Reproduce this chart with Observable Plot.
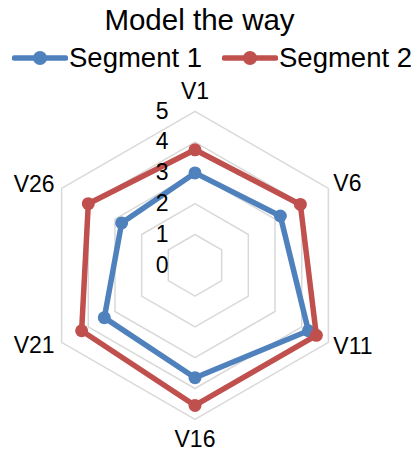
<!DOCTYPE html>
<html>
<head>
<meta charset="utf-8">
<script src="https://cdn.jsdelivr.net/npm/d3@7"></script>
<script src="https://cdn.jsdelivr.net/npm/@observablehq/plot@0.6"></script>
<style>
  html, body { margin: 0; padding: 0; background: #fff; }
  body { width: 411px; height: 452px; overflow: hidden; font-family: "Liberation Sans", Arial, sans-serif; color: #000; }
  #title { height: 40px; line-height: 40px; font-size: 29.5px; text-align: center; padding-right: 12px; white-space: nowrap; }
  #legend { height: 36px; position: relative; font-size: 27.5px; }
  #legend .swatch { position: absolute; top: 10px; }
  #legend .name { position: absolute; top: 0; line-height: 36px; white-space: nowrap; }
  #chart svg { display: block; }
</style>
</head>
<body>
<div id="title">Model the way</div>
<div id="legend"></div>
<div id="chart"></div>
<script>
// Radar axes, value ticks and the two segment profiles
const axes = ["V1", "V6", "V11", "V16", "V21", "V26"];
const ticks = [0, 1, 2, 3, 4, 5];
const seriesNames = ["Segment 1", "Segment 2"];
const seriesColors = ["#4F81BD", "#C0504D"];
const segment1 = [3.0, 3.2, 4.25, 3.65, 3.4, 2.75];
const segment2 = [3.75, 3.95, 4.55, 4.55, 4.25, 4.0];

const maxValue = 5;
const angle = (i) => (i * 2 * Math.PI) / axes.length;

// Concentric hexagonal grid rings (levels 1..5)
const grid = [];
for (const level of ticks.filter((t) => t > 0)) {
  for (let i = 0; i <= axes.length; i++) {
    const k = i % axes.length;
    grid.push({level, value: level, k});
  }
}

const series = [
  ...segment1.map((value, k) => ({series: seriesNames[0], axis: axes[k], value, k})),
  ...segment2.map((value, k) => ({series: seriesNames[1], axis: axes[k], value, k}))
];

const px = (d) => d.value * Math.sin(angle(d.k));
const py = (d) => d.value * Math.cos(angle(d.k));

// Axis label placement around the outer ring
const labelOffsets = [
  {dx: 0, dy: -20, anchor: "middle"},
  {dx: 5, dy: -4.5, anchor: "start"},
  {dx: 5, dy: 4, anchor: "start"},
  {dx: 0, dy: 20, anchor: "middle"},
  {dx: -7, dy: 3, anchor: "end"},
  {dx: -7, dy: -3.3, anchor: "end"}
];
const labels = axes.map((name, k) => ({name, k, value: maxValue, ...labelOffsets[k]}));

const color = {domain: seriesNames, range: seriesColors};

const seriesMarks = seriesNames.flatMap((name) => {
  const data = series.filter((d) => d.series === name);
  return [
    Plot.line(data, {x: px, y: py, stroke: "series", strokeWidth: 5.5, curve: "linear-closed", strokeLinejoin: "round"}),
    Plot.dot(data, {x: px, y: py, fill: "series", r: 6.5})
  ];
});

const chart = Plot.plot({
  width: 411,
  height: 376,
  marginLeft: 40.5,
  marginRight: 62.5,
  marginTop: 34.8,
  marginBottom: 33.2,
  x: {domain: [-maxValue, maxValue], axis: null},
  y: {domain: [-maxValue, maxValue], axis: null},
  color,
  style: {fontFamily: "'Liberation Sans', Arial, sans-serif", background: "#fff", overflow: "visible"},
  marks: [
    Plot.line(grid, {x: px, y: py, z: "level", stroke: "#d9d9d9", strokeWidth: 1.5}),
    ...seriesMarks,
    Plot.text(ticks, {x: 0, y: (d) => d, text: (d) => String(d), dx: -26.5, textAnchor: "end", fontSize: 23, fill: "#000"}),
    ...labels.map((l) =>
      Plot.text([l], {x: px, y: py, text: "name", dx: l.dx, dy: l.dy, textAnchor: l.anchor, fontSize: 23, fill: "#000"})
    )
  ]
});
document.getElementById("chart").appendChild(chart);

// Legend: line-with-marker swatch followed by the series name
const legend = document.getElementById("legend");
const legendLeft = [12, 222];
seriesNames.forEach((name, i) => {
  const c = seriesColors[i];
  const swatch = document.createElement("span");
  swatch.className = "swatch";
  swatch.style.left = legendLeft[i] + "px";
  swatch.innerHTML =
    `<svg width="56" height="16" style="display:block"><line x1="2.5" y1="8" x2="53.5" y2="8" stroke="${c}" stroke-width="5.5" stroke-linecap="round"/>` +
    `<circle cx="28" cy="8" r="7" fill="${c}"/></svg>`;
  const label = document.createElement("span");
  label.className = "name";
  label.style.left = (legendLeft[i] + 57) + "px";
  label.textContent = name;
  legend.appendChild(swatch);
  legend.appendChild(label);
});
</script>
</body>
</html>
